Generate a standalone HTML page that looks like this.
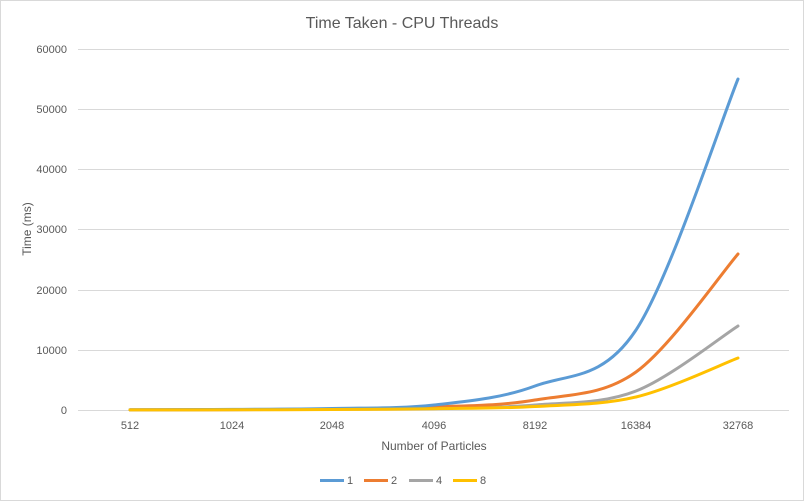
<!DOCTYPE html>
<html><head><meta charset="utf-8"><style>
html,body{margin:0;padding:0;background:#fff;}
svg{display:block;font-family:"Liberation Sans",sans-serif;}
</style></head><body>
<svg id="s" width="804" height="501" viewBox="0 0 804 501" xmlns="http://www.w3.org/2000/svg">
<rect x="0.5" y="0.5" width="803" height="500" fill="#fff" stroke="#d9d9d9"/>
<text x="402" y="28" text-anchor="middle" font-size="16" fill="#595959">Time Taken - CPU Threads</text>
<g stroke="#d9d9d9" stroke-width="1">
<line x1="78" x2="789" y1="49.5" y2="49.5"/>
<line x1="78" x2="789" y1="109.5" y2="109.5"/>
<line x1="78" x2="789" y1="169.5" y2="169.5"/>
<line x1="78" x2="789" y1="229.5" y2="229.5"/>
<line x1="78" x2="789" y1="290.5" y2="290.5"/>
<line x1="78" x2="789" y1="350.5" y2="350.5"/>
<line x1="78" x2="789" y1="410.5" y2="410.5"/>
</g>
<g font-size="11" fill="#595959" text-anchor="end">
<text x="67" y="53">60000</text>
<text x="67" y="113">50000</text>
<text x="67" y="173">40000</text>
<text x="67" y="233">30000</text>
<text x="67" y="294">20000</text>
<text x="67" y="354">10000</text>
<text x="67" y="414">0</text>
</g>
<g font-size="11" fill="#595959" text-anchor="middle">
<text x="130" y="429">512</text>
<text x="232" y="429">1024</text>
<text x="332" y="429">2048</text>
<text x="434" y="429">4096</text>
<text x="535" y="429">8192</text>
<text x="636" y="429">16384</text>
<text x="738" y="429">32768</text>
</g>
<text x="434" y="450" text-anchor="middle" font-size="12" fill="#595959">Number of Particles</text>
<text transform="translate(31,229) rotate(-90)" text-anchor="middle" font-size="12" fill="#595959">Time (ms)</text>
<g id="lines" fill="none" stroke-width="3" stroke-linecap="round"></g>
<g stroke-width="3">
<line x1="320" x2="344" y1="480.5" y2="480.5" stroke="#5b9bd5"/>
<line x1="364" x2="388" y1="480.5" y2="480.5" stroke="#ed7d31"/>
<line x1="409" x2="433" y1="480.5" y2="480.5" stroke="#a5a5a5"/>
<line x1="453" x2="477" y1="480.5" y2="480.5" stroke="#ffc000"/>
</g>
<g font-size="11" fill="#595959">
<text x="347" y="484">1</text>
<text x="391" y="484">2</text>
<text x="436" y="484">4</text>
<text x="480" y="484">8</text>
</g>
</svg>
<script>
var X=[130,232,332,434,535,636,738];
var S=[
["#a5a5a5",[409.9,409.7,409.3,408.3,405,391,326]],
["#ed7d31",[409.9,409.6,409,407,400,372,254]],
["#5b9bd5",[409.8,409.4,408.5,405,386,330,79]],
["#ffc000",[409.9,409.8,409.5,408.7,406.5,397,358]]
];
var g=document.getElementById("lines");
S.forEach(function(s){
 var y=s[1],d="M"+X[0]+" "+y[0];
 for(var i=0;i<6;i++){
  var p0=[X[Math.max(i-1,0)],y[Math.max(i-1,0)]],p1=[X[i],y[i]],p2=[X[i+1],y[i+1]],p3=[X[Math.min(i+2,6)],y[Math.min(i+2,6)]];
  var t=0.33;
  var c1=[p1[0]+(p2[0]-p0[0])*t/2,p1[1]+(p2[1]-p0[1])*t/2];
  var c2=[p2[0]-(p3[0]-p1[0])*t/2,p2[1]-(p3[1]-p1[1])*t/2];
  c1[1]=Math.min(c1[1],410);c2[1]=Math.min(c2[1],410);
  d+=" C"+c1[0]+" "+c1[1]+" "+c2[0]+" "+c2[1]+" "+p2[0]+" "+p2[1];
 }
 var p=document.createElementNS("http://www.w3.org/2000/svg","path");
 p.setAttribute("d",d);p.setAttribute("stroke",s[0]);
 g.appendChild(p);
});
</script>
</body></html>
